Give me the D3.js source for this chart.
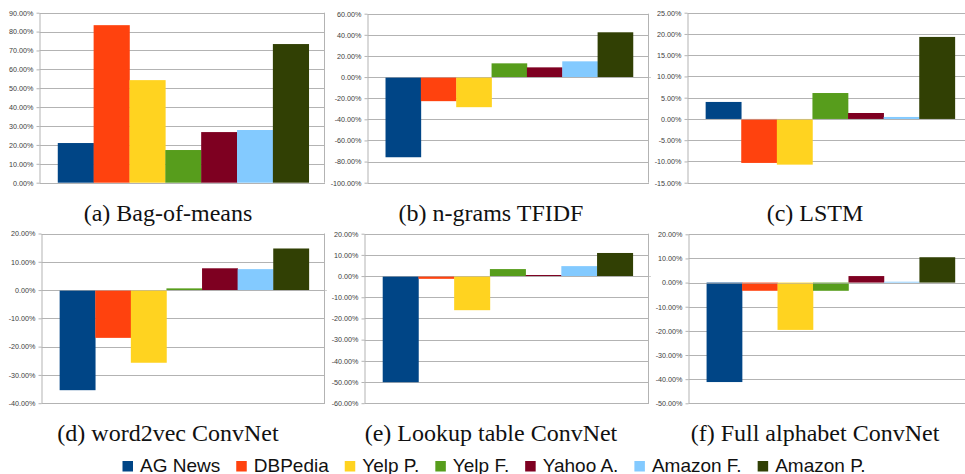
<!DOCTYPE html>
<html>
<head>
<meta charset="utf-8">
<script src="https://cdn.jsdelivr.net/npm/d3@7"></script>
<style>
  html, body { margin: 0; padding: 0; background: #fff; }
  svg { display: block; }
</style>
</head>
<body>
<div id="chart"></div>
<script>
// Relative errors (%) per dataset, one array per model
const seriesNames = ['AG News', 'DBPedia', 'Yelp P.', 'Yelp F.', 'Yahoo A.', 'Amazon F.', 'Amazon P.'];
const bagOfMeans = [21.0, 83.4, 54.3, 17.3, 26.8, 27.9, 73.4];
const ngramsTfidf = [-75.9, -22.8, -28.5, 13.0, 9.2, 14.9, 42.4];
const lstm = [4.0, -10.35, -10.75, 6.1, 1.4, 0.47, 19.3];
const word2vecConvNet = [-35.4, -16.9, -25.7, 0.6, 7.7, 7.4, 14.7];
const lookupTableConvNet = [-50.1, -1.3, -16.1, 3.3, 0.5, 4.7, 10.9];
const fullAlphabetConvNet = [-41.2, -3.4, -19.6, -3.4, 2.7, 0.35, 10.5];

// y tick labels per panel
const ticksA = [0, 10, 20, 30, 40, 50, 60, 70, 80, 90];
const ticksB = [-100, -80, -60, -40, -20, 0, 20, 40, 60];
const ticksC = [-15, -10, -5, 0, 5, 10, 15, 20, 25];
const ticksD = [-40, -30, -20, -10, 0, 10, 20];
const ticksE = [-60, -50, -40, -30, -20, -10, 0, 10, 20];
const ticksF = [-50, -40, -30, -20, -10, 0, 10, 20];

const captions = ['(a) Bag-of-means', '(b) n-grams TFIDF', '(c) LSTM',
                  '(d) word2vec ConvNet', '(e) Lookup table ConvNet', '(f) Full alphabet ConvNet'];

const colors = ['#004586', '#ff420e', '#ffd320', '#579d1c', '#7e0021', '#83caff', '#314004'];

const width = 965;
const height = 474;

// plot boxes (left axis x, right edge, top, bottom) and caption anchor
const panels = [
    {values: bagOfMeans, ticks: ticksA, x0: 39.5, x1: 325, y0: 12.7, y1: 182.7, cx: 168, cy: 221},
    {values: ngramsTfidf, ticks: ticksB, x0: 367.5, x1: 649, y0: 13.7, y1: 182.7, cx: 491, cy: 221},
    {values: lstm, ticks: ticksC, x0: 687.5, x1: 971, y0: 12.7, y1: 182.7, cx: 815, cy: 221},
    {values: word2vecConvNet, ticks: ticksD, x0: 41.5, x1: 325, y0: 233.5, y1: 403.2, cx: 168, cy: 441},
    {values: lookupTableConvNet, ticks: ticksE, x0: 364.5, x1: 649, y0: 233.7, y1: 403.2, cx: 491, cy: 441},
    {values: fullAlphabetConvNet, ticks: ticksF, x0: 688.5, x1: 971, y0: 234.3, y1: 403.3, cx: 815, cy: 441}
];

const locale = d3.formatLocale({decimal: '.', thousands: ',', grouping: [3], currency: ['$', ''], minus: '-'});
const pct = locale.format('.2%');

const svg = d3.select('#chart').append('svg')
    .attr('width', width)
    .attr('height', height);

const gridColor = '#b3b3b3';

panels.forEach((p, i) => {
    const g = svg.append('g');
    const y = d3.scaleLinear()
        .domain(d3.extent(p.ticks))
        .range([p.y1, p.y0]);
    const w = p.x1 - p.x0;
    const x = d3.scaleBand()
        .domain(seriesNames)
        .range([p.x0 + w * 0.064, p.x1 - w * 0.057])
        .paddingInner(0);

    // gridlines
    g.selectAll('line.grid')
        .data(p.ticks)
        .enter()
        .append('line')
        .attr('class', 'grid')
        .attr('x1', p.x0)
        .attr('x2', p.x1)
        .attr('y1', d => Math.round(y(d)) + 0.5)
        .attr('y2', d => Math.round(y(d)) + 0.5)
        .style('stroke', gridColor)
        .style('stroke-width', 1);

    // right border
    g.append('line')
        .attr('x1', p.x1 - 0.5).attr('x2', p.x1 - 0.5)
        .attr('y1', y.range()[1]).attr('y2', y.range()[0])
        .style('stroke', gridColor);

    // bars
    g.selectAll('rect')
        .data(p.values)
        .enter()
        .append('rect')
        .attr('x', (d, j) => x(seriesNames[j]))
        .attr('width', x.bandwidth() + 0.3)
        .attr('y', d => y(Math.max(0, d)))
        .attr('height', d => Math.abs(y(d) - y(0)))
        .style('fill', (d, j) => colors[j]);

    // zero line extends a little past the frame
    if (p.ticks[0] < 0) {
        g.append('line')
            .attr('x1', p.x0).attr('x2', p.x1 + 2)
            .attr('y1', Math.round(y(0)) + 0.5).attr('y2', Math.round(y(0)) + 0.5)
            .style('stroke', gridColor)
            .style('stroke-opacity', 0.6);
    }

    // left axis
    const axis = g.append('g')
        .attr('transform', `translate(${p.x0},0)`)
        .call(d3.axisLeft(y).tickValues(p.ticks).tickSize(3).tickSizeOuter(0).tickPadding(3)
            .tickFormat(d => pct(d / 100)));
    axis.select('.domain').style('stroke', gridColor);
    axis.selectAll('.tick line').style('stroke', gridColor);
    axis.selectAll('.tick text')
        .style('font-family', '"Liberation Sans", Arial, sans-serif')
        .style('font-size', '7.2px')
        .style('fill', '#3c3c3c');

    // caption
    svg.append('text')
        .attr('x', p.cx)
        .attr('y', p.cy)
        .attr('text-anchor', 'middle')
        .style('font-family', '"Liberation Serif", "Times New Roman", serif')
        .style('font-size', '24px')
        .style('fill', '#111')
        .text(captions[i]);
});

// legend
const legend = svg.append('g');
let lx = 122.5;
seriesNames.forEach((name, j) => {
    legend.append('rect')
        .attr('x', lx)
        .attr('y', 461)
        .attr('width', 10.5)
        .attr('height', 10.5)
        .style('fill', colors[j]);
    const t = legend.append('text')
        .attr('x', lx + 17.5)
        .attr('y', 471.5)
        .style('font-family', '"Liberation Sans", Arial, sans-serif')
        .style('font-size', '19px')
        .style('fill', '#111')
        .text(name);
    lx += 17.5 + t.node().getComputedTextLength() + 16;
});
</script>
</body>
</html>
